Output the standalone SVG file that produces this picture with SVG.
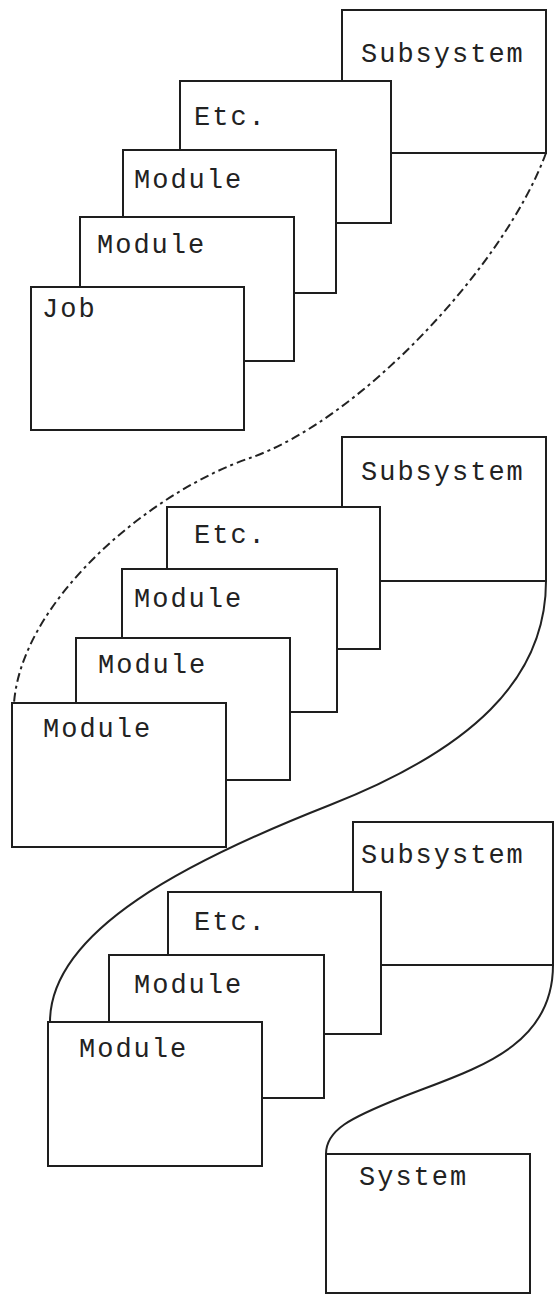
<svg xmlns="http://www.w3.org/2000/svg" width="555" height="1297" viewBox="0 0 555 1297">
<style>
.box{fill:#fff;stroke:#1e1e1e;stroke-width:2}
.lbl{font-family:"Liberation Mono",monospace;font-size:27px;letter-spacing:2px;fill:#222}
.curve{fill:none;stroke:#222;stroke-width:2}
.dashed{stroke-dasharray:9 4 3 4}
</style>
<rect width="555" height="1297" fill="#fff"/>
<g id="connectors">
<path class="curve dashed" d="M546,153 C505,265 360,420 250,458 C150,492 22,600 14,703"/>
<path class="curve" d="M546,581 C546,680 470,750 330,805 C190,860 50,930 50,1022"/>
<path class="curve" d="M553,965 C553,1050 470,1070 400,1098 C350,1118 326,1130 326,1154"/>
</g>
<g id="subsystem1"><rect class="box" x="342" y="10" width="204" height="143"/><text class="lbl" x="361" y="62">Subsystem</text></g>
<g id="etc1"><rect class="box" x="180" y="81" width="211" height="142"/><text class="lbl" x="194" y="125">Etc.</text></g>
<g id="module1a"><rect class="box" x="123" y="150" width="213" height="143"/><text class="lbl" x="134" y="188">Module</text></g>
<g id="module1b"><rect class="box" x="80" y="217" width="214" height="144"/><text class="lbl" x="97" y="253">Module</text></g>
<g id="job"><rect class="box" x="31" y="287" width="213" height="143"/><text class="lbl" x="42" y="317">Job</text></g>
<g id="subsystem2"><rect class="box" x="342" y="437" width="204" height="144"/><text class="lbl" x="361" y="480">Subsystem</text></g>
<g id="etc2"><rect class="box" x="167" y="507" width="213" height="142"/><text class="lbl" x="194" y="543">Etc.</text></g>
<g id="module2a"><rect class="box" x="122" y="569" width="215" height="143"/><text class="lbl" x="134" y="607">Module</text></g>
<g id="module2b"><rect class="box" x="76" y="638" width="214" height="142"/><text class="lbl" x="98" y="673">Module</text></g>
<g id="module2c"><rect class="box" x="12" y="703" width="214" height="144"/><text class="lbl" x="43" y="737">Module</text></g>
<g id="subsystem3"><rect class="box" x="353" y="822" width="200" height="143"/><text class="lbl" x="361" y="863">Subsystem</text></g>
<g id="etc3"><rect class="box" x="168" y="892" width="213" height="142"/><text class="lbl" x="194" y="930">Etc.</text></g>
<g id="module3a"><rect class="box" x="109" y="955" width="215" height="143"/><text class="lbl" x="134" y="993">Module</text></g>
<g id="module3b"><rect class="box" x="48" y="1022" width="214" height="144"/><text class="lbl" x="79" y="1057">Module</text></g>
<g id="system"><rect class="box" x="326" y="1154" width="204" height="139"/><text class="lbl" x="359" y="1185">System</text></g>
</svg>
